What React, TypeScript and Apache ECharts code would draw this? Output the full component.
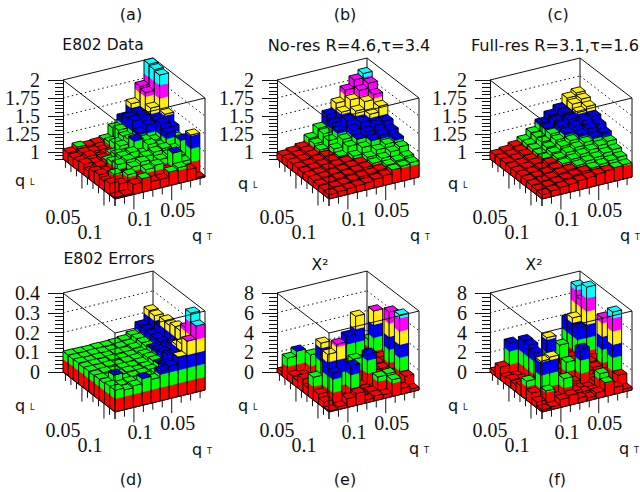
import React, { useEffect, useRef } from "react";
import * as echarts from "echarts";

// rows: i = 0 (along the left-to-back wall) .. 9 (front-right edge); columns: j = 0 (left/front) .. 9 (back/right)
const e802Data = [
  [1.04,1.09,1.07,1.08,1.10,1.23,1.34,1.51,1.72,2.00],
  [1.02,1.06,1.05,1.03,1.12,1.26,1.40,1.44,1.69,1.98],
  [1.03,1.07,1.02,1.05,1.16,1.22,1.41,1.45,1.53,1.96],
  [1.05,1.03,1.06,1.10,1.18,1.24,1.30,1.38,1.40,1.47],
  [1.00,1.04,1.09,1.14,1.13,1.29,1.25,1.22,1.42,1.35],
  [1.05,1.02,1.13,1.17,1.20,1.15,1.25,1.20,1.35,1.25],
  [1.07,1.02,1.15,1.18,1.12,1.17,1.20,1.22,1.18,1.28],
  [1.03,1.10,1.06,1.14,1.18,1.07,1.15,1.19,1.14,1.05],
  [1.06,1.02,1.12,1.05,1.13,1.16,1.05,1.27,1.12,1.46],
  [0.92,0.92,1.04,1.09,1.02,1.02,1.09,1.12,1.06,0.92],
];
const noRes = [
  [1.00,1.02,1.05,1.15,1.26,1.42,1.55,1.70,1.81,1.87],
  [1.00,1.02,1.05,1.13,1.24,1.36,1.48,1.62,1.72,1.79],
  [1.00,1.02,1.05,1.10,1.20,1.30,1.42,1.52,1.62,1.69],
  [1.00,1.01,1.04,1.07,1.14,1.24,1.34,1.42,1.50,1.58],
  [0.99,1.01,1.03,1.06,1.09,1.20,1.27,1.34,1.40,1.43],
  [0.99,1.00,1.03,1.05,1.07,1.12,1.21,1.28,1.32,1.36],
  [0.99,1.00,1.02,1.04,1.06,1.08,1.13,1.20,1.25,1.30],
  [0.98,0.99,1.01,1.03,1.05,1.07,1.10,1.14,1.20,1.24],
  [0.97,0.98,0.99,1.01,1.03,1.04,1.06,1.10,1.13,1.16],
  [0.96,0.97,0.98,0.99,1.00,1.02,1.04,1.09,1.11,1.13],
];
const fullRes = [
  [1.01,1.03,1.07,1.12,1.20,1.30,1.38,1.44,1.56,1.60],
  [1.01,1.03,1.06,1.12,1.19,1.28,1.36,1.43,1.53,1.57],
  [1.01,1.03,1.06,1.11,1.18,1.26,1.33,1.40,1.47,1.52],
  [1.00,1.02,1.05,1.10,1.16,1.23,1.30,1.36,1.41,1.44],
  [1.00,1.02,1.05,1.09,1.14,1.20,1.25,1.30,1.35,1.38],
  [1.00,1.01,1.04,1.08,1.12,1.17,1.21,1.25,1.29,1.32],
  [0.99,1.01,1.03,1.06,1.10,1.13,1.17,1.20,1.23,1.26],
  [0.98,1.00,1.02,1.05,1.07,1.10,1.13,1.15,1.18,1.20],
  [0.97,0.99,1.01,1.03,1.05,1.07,1.09,1.11,1.13,1.15],
  [0.96,0.98,1.00,1.01,1.03,1.04,1.06,1.075,1.09,1.10],
];
const e802Errors = [
  [.106,.105,.104,.106,.105,.107,.112,.125,.165,.23],
  [.104,.103,.106,.104,.102,.108,.11,.13,.165,.225],
  [.106,.102,.105,.103,.107,.104,.113,.13,.16,.19],
  [.103,.106,.102,.108,.103,.106,.11,.13,.16,.24],
  [.105,.103,.107,.101,.106,.109,.12,.14,.16,.235],
  [.102,.107,.100,.106,.104,.11,.125,.15,.17,.25],
  [.106,.101,.104,.109,.102,.11,.13,.16,.19,.25],
  [.104,.135,.102,.105,.108,.115,.135,.17,.21,.285],
  [.11,.102,.108,.103,.11,.12,.15,.19,.235,.38],
  [.11,.10,.11,.137,.12,.15,.165,.20,.27,.335],
];
const chi2NoRes = [
  [.4,.3,.3,.2,.3,.4,.8,.3,.5,1.0],
  [2.2,2.7,.9,.5,.4,.5,.9,.7,1.0,2.1],
  [.8,.6,2.5,.7,.5,.4,3.5,5.3,1.2,5.4],
  [.7,.4,.6,.9,.4,1.1,.8,.6,.9,1.1],
  [1.3,.5,4.5,.5,.3,.7,1.0,.7,1.1,.8],
  [.8,.7,.3,1.2,.5,2.6,.3,1.0,1.0,6.5],
  [2.3,.4,.5,1.6,.3,.3,3.3,.4,.6,.7],
  [1.0,4.8,5.6,.6,.4,.3,.2,.6,.4,7.0],
  [.6,3.3,.5,3.6,.3,.5,1.8,1.9,.3,1.2],
  [.1,.3,.9,1.2,.3,.5,.4,1.7,.6,.3],
];
const chi2FullRes = [
  [.4,.3,.4,.3,.5,.6,.8,.5,3.95,7.1],
  [1.3,3.5,.8,.5,.6,.4,.9,1.0,4.5,6.1],
  [.6,.5,3.95,.7,.5,.6,2.6,1.1,3.9,7.8],
  [.8,.6,3.9,.8,4.2,.8,.5,1.2,1.0,.9],
  [.7,.5,3.5,.5,.6,.4,1.0,.8,1.2,.7],
  [1.0,.7,.3,.6,.5,2.3,.4,.9,1.1,5.9],
  [1.9,.4,.5,1.6,.4,.7,3.8,.5,.6,.8],
  [1.1,4.1,4.3,.7,1.0,.4,.3,.7,.5,7.3],
  [.6,1.5,.6,2.3,.8,.5,.4,1.9,.3,1.3],
  [.2,.3,.8,1.0,.5,.3,.6,1.4,.7,.3],
];

const panelData = [e802Data, noRes, fullRes, e802Errors, chi2NoRes, chi2FullRes];
const zRanges = [[0.9, 2], [0.9, 2], [0.9, 2], [0, 0.4], [0, 8], [0, 8]];
const zMajorA = [1, 1.25, 1.5, 1.75, 2];
const zMinorA = [0.9,0.95,1.05,1.1,1.15,1.2,1.3,1.35,1.4,1.45,1.55,1.6,1.65,1.7,1.8,1.85,1.9,1.95];
const zMajorD = [0, 0.1, 0.2, 0.3, 0.4];
const zMinorD = [0.02,0.04,0.06,0.08,0.12,0.14,0.16,0.18,0.22,0.24,0.26,0.28,0.32,0.34,0.36,0.38];
const zMajorE = [0, 2, 4, 6, 8];
const zMinorE = [0.4,0.8,1.2,1.6,2.4,2.8,3.2,3.6,4.4,4.8,5.2,5.6,6.4,6.8,7.2,7.6];
const zMajors = [zMajorA, zMajorA, zMajorA, zMajorD, zMajorE, zMajorE];
const zMinors = [zMinorA, zMinorA, zMinorA, zMinorD, zMinorE, zMinorE];
const qTicks = [0.0125,0.025,0.0375,0.05,0.0625,0.075,0.0875,0.1,0.1125,0.125];
const qLabelled = [[0.05, "0.05"], [0.1, "0.1"]];
const qMin = [0.007, 0.006];
const qMax = 0.125;
const titles = ["E802 Data", "No-res R=4.6,τ=3.4", "Full-res R=3.1,τ=1.6", "E802 Errors", "X²", "X²"];
const titleSizes = [15.5, 16.2, 16.2, 15.7, 15.5, 15.5];
const titleCentres = [[103, 45], [349, 45], [555, 45], [109, 258], [320, 265], [534, 265]];
const panelTags = ["(a)", "(b)", "(c)", "(d)", "(e)", "(f)"];
const tagCentres = [[131, 14], [345, 14], [558, 14], [131, 479], [345, 479], [557, 479]];
const qLPos = [[15, 180], [238, 183], [448, 183], [15, 405], [238, 405], [448, 405]];
const qTPos = [[192, 235], [410, 235], [620, 235], [192, 449], [409, 448], [619, 448]];
const bandColours = ["#ff0000", "#00ff00", "#0000f0", "#ffee10", "#ff00ff", "#00ffff"];

const lefts = [63, 277, 490, 63, 277, 490];
const tops = [80, 80, 80, 293, 293, 293];
const boxW = 142, boxH = 79;
const depthX = 52, widthX = 90, depthY = 40, widthY = 22;
const sans = '"DejaVu Sans", sans-serif';
const serif = '"Liberation Serif", serif';
const axisColour = "#111";

function makeProject(api: any, range: number[]) {
  const span = range[1] - range[0];
  return (a: number, b: number, z: number) =>
    api.coord([(a * depthX + b * widthX) / (depthX + widthX), z - ((a * depthY - b * widthY) / boxH) * span]);
}

function renderBar(range: number[]) {
  return (_p: any, api: any) => {
    const i = api.value(0), j = api.value(1), z = api.value(2);
    const P = makeProject(api, range);
    const a0 = i / 10, a1 = (i + 1) / 10, b0 = j / 10, b1 = (j + 1) / 10;
    const step = (range[1] - range[0]) / 6;
    const kids: any[] = [];
    const faces = [[[a0, b0], [a1, b0]], [[a1, b0], [a1, b1]]];
    for (const f of faces) {
      for (let k = 0; k < 6; k++) {
        const lo = range[0] + k * step;
        if (lo >= z) break;
        const hi = Math.min(lo + step, z);
        kids.push({
          type: "polygon",
          shape: { points: [P(f[0][0], f[0][1], lo), P(f[1][0], f[1][1], lo), P(f[1][0], f[1][1], hi), P(f[0][0], f[0][1], hi)] },
          style: { fill: bandColours[k], stroke: bandColours[k], lineWidth: 0.3 },
        });
      }
      kids.push({
        type: "polygon",
        shape: { points: [P(f[0][0], f[0][1], range[0]), P(f[1][0], f[1][1], range[0]), P(f[1][0], f[1][1], z), P(f[0][0], f[0][1], z)] },
        style: { fill: "none", stroke: "#000", lineWidth: 0.9 },
      });
    }
    const band = Math.min(5, Math.floor((z - range[0]) / step));
    kids.push({
      type: "polygon",
      shape: { points: [P(a0, b0, z), P(a1, b0, z), P(a1, b1, z), P(a0, b1, z)] },
      style: { fill: bandColours[band], stroke: "#000", lineWidth: 0.9 },
    });
    return { type: "group", children: kids };
  };
}

function line(p: number[], q: number[], dash?: number[], w = 1) {
  return {
    type: "line",
    shape: { x1: p[0], y1: p[1], x2: q[0], y2: q[1] },
    style: { stroke: axisColour, lineWidth: w, lineDash: dash },
  };
}

function renderBack(range: number[], majors: number[]) {
  return (_p: any, api: any) => {
    const P = makeProject(api, range);
    const [lo, hi] = range;
    const kids: any[] = [
      line(P(0, 0, hi), P(0, 1, hi)),
      line(P(0, 1, hi), P(1, 1, hi)),
      line(P(0, 1, lo), P(0, 1, hi)),
      line(P(1, 1, lo), P(1, 1, hi)),
      line(P(0, 0, lo), P(0, 1, lo)),
      line(P(0, 1, lo), P(1, 1, lo)),
    ];
    majors.filter((z) => z > lo && z < hi).forEach((z) => {
      kids.push(line(P(0, 0, z), P(0, 1, z), [1.5, 3]));
      kids.push(line(P(0, 1, z), P(1, 1, z), [1.5, 3]));
    });
    return { type: "group", children: kids };
  };
}

function renderFront(range: number[]) {
  return (_p: any, api: any) => {
    const P = makeProject(api, range);
    const [lo, hi] = range;
    return {
      type: "group",
      children: [
        line(P(0, 0, hi), P(1, 0, hi)),
        line(P(1, 0, hi), P(1, 1, hi)),
        line(P(1, 0, lo), P(1, 0, hi)),
        line(P(0, 0, lo), P(1, 0, lo)),
        line(P(1, 0, lo), P(1, 1, lo)),
      ],
    };
  };
}

const fracL = (v: number) => (v - qMin[0]) / (qMax - qMin[0]);
const fracT = (v: number) => (qMax - v) / (qMax - qMin[1]);

function renderTicks(range: number[], majors: number[]) {
  return (_p: any, api: any) => {
    const P = makeProject(api, range);
    const kids: any[] = [];
    const isLong = (v: number) => qLabelled.some((q) => Math.abs((q[0] as number) - v) < 1e-6);
    qTicks.forEach((v) => {
      const len = isLong(v) ? 15 : 7;
      const pl = P(fracL(v), 0, range[0]);
      kids.push(line(pl, [pl[0], pl[1] + len], undefined, 1));
      const pt = P(1, fracT(v), range[0]);
      kids.push(line(pt, [pt[0], pt[1] + len], undefined, 1));
    });
    const label = (t: string, x: number, y: number, align: string) => ({
      type: "text", x, y,
      style: { text: t, font: `20px ${serif}`, fill: "#111", textAlign: align, textVerticalAlign: "middle" },
    });
    qLabelled.forEach((q) => {
      const v = q[0] as number;
      const pl = P(fracL(v), 0, range[0]);
      const pt = P(1, fracT(v), range[0]);
      kids.push(label(q[1] as string, pl[0] - (v > 0.07 ? 14 : 19), pl[1] + (v > 0.07 ? 41 : 43), "center"));
      kids.push(label(q[1] as string, pt[0] + 6, pt[1] + 24.5, "center"));
    });
    majors.forEach((z) => {
      const p = P(0, 0, z);
      kids.push(label(String(z), p[0] - 23, p[1], "right"));
    });
    return { type: "group", children: kids };
  };
}

function buildOption() {
  const grid: any[] = [], xAxis: any[] = [], yAxis: any[] = [], series: any[] = [];
  panelData.forEach((rows, n) => {
    const range = zRanges[n];
    grid.push({ left: lefts[n], top: tops[n], width: boxW, height: boxH });
    xAxis.push({ gridIndex: n, type: "value", min: 0, max: 1, show: false });
    yAxis.push({
      gridIndex: n, type: "value", min: range[0], max: range[1], position: "left",
      axisLine: { show: true, onZero: false, lineStyle: { color: axisColour, width: 1 } },
      splitLine: { show: false },
      axisTick: { show: true, length: 15, customValues: zMajors[n], lineStyle: { color: axisColour, width: 1 } },
      axisLabel: { show: false },
    });
    yAxis.push({
      gridIndex: n, type: "value", min: range[0], max: range[1], position: "left",
      axisLine: { show: false }, splitLine: { show: false }, axisLabel: { show: false },
      axisTick: { show: true, length: 8, customValues: zMinors[n], lineStyle: { color: axisColour, width: 1 } },
    });
    const axes = { xAxisIndex: n, yAxisIndex: 2 * n, silent: true, coordinateSystem: "cartesian2d", type: "custom" };
    series.push({ ...axes, data: [[0, range[0]]], renderItem: renderTicks(range, zMajors[n]), z: 1 });
    series.push({ ...axes, data: [[0, range[0]]], renderItem: renderBack(range, zMajors[n]), z: 2 });
    const cells: number[][] = [];
    for (let i = 0; i < 10; i++) for (let j = 9; j >= 0; j--) cells.push([i, j, rows[i][j]]);
    series.push({ ...axes, data: cells, encode: { x: 0, y: 2 }, renderItem: renderBar(range), z: 3 });
    series.push({ ...axes, data: [[0, range[0]]], renderItem: renderFront(range), z: 4 });
  });
  const text = (t: string, x: number, y: number, extra: any = {}) => ({
    type: "text", x, y, silent: true,
    style: { text: t, font: `15.5px ${sans}`, fill: "#111", textAlign: "center", textVerticalAlign: "middle", ...extra },
  });
  const graphic: any[] = [];
  titles.forEach((t, n) => graphic.push(text(t, titleCentres[n][0], titleCentres[n][1], { font: `${titleSizes[n]}px ${sans}` })));
  panelTags.forEach((t, n) => graphic.push(text(t, tagCentres[n][0], tagCentres[n][1], { font: `16px ${sans}` })));
  const rich = { q: { fontFamily: sans, fontSize: 16, fill: "#111" }, s: { fontFamily: sans, fontSize: 8, fill: "#111", padding: [5, 0, 0, 0] } };
  qLPos.forEach((p) => graphic.push(text("{q|q} {s|L}", p[0], p[1], { textAlign: "left", rich })));
  qTPos.forEach((p) => graphic.push(text("{q|q} {s|T}", p[0], p[1], { textAlign: "left", rich })));
  return { animation: false, backgroundColor: "#fff", grid, xAxis, yAxis, series, graphic };
}

export default function App() {
  const ref = useRef<HTMLDivElement>(null);
  useEffect(() => {
    const chart = echarts.init(ref.current!, undefined, { renderer: "svg" });
    chart.setOption(buildOption() as any);
    return () => chart.dispose();
  }, []);
  return <div ref={ref} style={{ position: "fixed", left: 0, top: 0, width: 640, height: 492 }} />;
}
